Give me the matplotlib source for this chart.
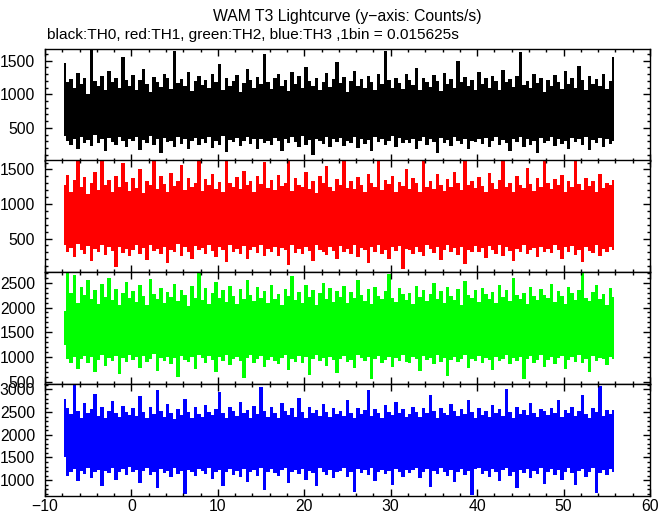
import numpy as np
import matplotlib
matplotlib.use("Agg")
import matplotlib.pyplot as plt
from matplotlib.ticker import MultipleLocator

plt.rcParams['font.family'] = ['Liberation Sans', 'DejaVu Sans']

# time span of the lightcurve (s); values are envelopes per 0.4 s bin
t_start, t_end = -8.0, 56.0

th0_high = [1460,1180,1230,1090,1320,1150,1250,1010,1660,1200,1120,1280,1070,1350,1190,1240,1100,1560,1210,1130,
            1290,1060,1220,1380,1150,1030,1260,1180,1110,1300,1240,1080,1650,1170,1230,1120,1340,1050,1200,1270,
            1140,1210,1090,1310,1180,1450,1060,1250,1130,1200,1290,1040,1170,1380,1220,1100,1260,1150,1600,1190,
            1080,1240,1300,1120,1210,1050,1330,1160,1270,1090,1410,1200,1130,1250,1070,1180,1320,1110,1230,1480,
            1170,1260,1040,1200,1350,1120,1230,1090,1280,1190,1060,1310,1150,1640,1210,1100,1250,1170,1080,1300,
            1220,1140,1390,1060,1240,1180,1110,1290,1200,1050,1320,1160,1230,1090,1500,1190,1260,1120,1210,1070,
            1330,1150,1240,1100,1280,1200,1060,1360,1180,1230,1110,1270,1630,1140,1200,1090,1310,1170,1250,1040,
            1220,1120,1290,1190,1080,1350,1160,1240,1100,1420,1210,1060,1280,1150,1230,1130,1300,1080,1200,1550]
th0_low = [380,300,250,340,190,360,280,320,230,390,270,330,150,350,290,240,370,310,210,340,
           300,360,170,320,270,380,240,330,120,350,290,310,220,370,260,340,180,300,350,250,
           330,280,360,200,310,250,380,140,320,290,350,230,300,370,260,330,190,340,280,310,
           240,350,300,160,330,270,360,290,220,380,250,320,100,340,300,260,370,210,330,290,
           350,230,310,280,370,200,340,260,320,150,360,290,330,240,300,380,210,350,270,320,
           280,340,190,310,360,250,330,290,130,350,270,320,230,370,300,260,340,180,310,290,
           330,260,350,220,300,370,240,320,280,160,340,290,360,210,330,250,310,120,350,280,
           300,370,230,340,260,310,190,350,290,330,240,360,170,320,280,350,220,330,260,300]

th1_high = [1270,1420,1180,1350,1630,1240,1390,1150,1310,1460,1200,1630,1280,1350,1170,1410,1250,1600,1320,1190,
            1380,1230,1500,1160,1340,1270,1630,1210,1400,1290,1180,1450,1260,1330,1560,1200,1370,1240,1310,1630,
            1190,1360,1280,1430,1220,1320,1170,1630,1300,1250,1390,1210,1480,1270,1340,1180,1410,1290,1610,1230,
            1350,1200,1420,1260,1310,1630,1190,1370,1280,1240,1460,1220,1330,1160,1400,1300,1550,1250,1190,1360,
            1280,1630,1230,1340,1210,1390,1270,1170,1440,1300,1250,1630,1200,1350,1290,1410,1180,1320,1260,1500,
            1220,1380,1300,1170,1630,1250,1340,1210,1430,1280,1190,1360,1240,1470,1310,1200,1630,1270,1330,1230,
            1390,1260,1180,1450,1300,1220,1350,1630,1240,1310,1170,1400,1280,1230,1520,1290,1190,1370,1250,1630,
            1300,1210,1360,1270,1420,1180,1330,1250,1630,1290,1200,1380,1260,1340,1170,1440,1230,1310,1270,1350]
th1_low = [400,310,360,230,420,340,280,390,170,350,300,410,260,370,320,90,380,290,350,240,
           330,400,270,360,190,410,320,350,280,380,140,340,300,420,250,370,310,210,390,330,
           360,280,400,320,230,380,340,160,410,300,350,270,390,200,330,370,290,410,240,350,
           310,380,250,360,330,120,400,290,350,270,380,320,180,410,340,300,260,370,320,210,
           390,300,350,280,410,230,360,330,150,380,310,400,270,340,200,370,320,390,60,350,
           340,270,380,310,240,400,350,290,370,190,330,410,300,360,260,380,130,340,310,390,
           300,360,220,390,340,280,410,250,370,320,180,350,300,400,270,330,360,230,380,310,
           350,290,400,330,200,370,310,390,260,340,160,380,320,290,410,240,350,300,370,330]

th2_high = [1920,2700,2300,2650,2100,2420,2250,2560,2180,2350,2080,2470,2220,2600,2150,2380,2050,2290,2510,2190,
            2340,2120,2450,2230,2060,2580,2270,2170,2400,2090,2320,2210,2480,2140,2360,2250,2030,2430,2200,2700,
            2160,2390,2080,2300,2520,2190,2350,2110,2440,2240,2070,2370,2180,2560,2260,2130,2410,2200,2330,2090,
            2460,2170,2280,2050,2380,2230,2640,2150,2320,2100,2450,2210,2350,2060,2290,2500,2180,2400,2120,2340,
            2220,2430,2090,2310,2190,2550,2260,2140,2370,2080,2420,2240,2170,2330,2680,2200,2120,2390,2270,2160,
            2300,2070,2440,2210,2360,2130,2270,2490,2180,2340,2100,2410,2230,2150,2380,2060,2530,2250,2190,2350,
            2120,2400,2270,2170,2320,2090,2460,2210,2350,2140,2590,2260,2180,2300,2080,2420,2230,2160,2370,2250,
            2190,2470,2110,2330,2240,2070,2410,2290,2150,2360,2700,2200,2130,2310,2450,2180,2280,2060,2390,2220]
th2_low = [1250,950,870,1000,760,960,1020,880,990,700,940,1030,820,970,910,1010,650,980,890,1040,
           930,990,780,1020,900,960,1050,720,980,920,1000,850,970,600,1010,940,890,990,760,1030,
           970,880,1010,940,690,990,920,1040,830,960,1000,910,570,980,1030,870,950,1010,790,940,
           1000,920,850,980,1040,740,960,900,1020,880,990,640,950,1030,910,970,820,1000,930,680,
           960,1010,890,940,770,1030,970,910,990,550,960,1020,870,940,1000,800,980,920,1040,900,
           880,990,950,710,1010,930,970,860,1030,900,980,620,940,1000,890,960,1040,780,950,920,
           1020,870,980,940,730,1000,910,960,1040,850,970,920,990,560,950,1010,880,940,1030,800,
           940,1000,860,970,1020,750,930,990,900,1040,870,960,690,1010,920,980,950,830,1000,960]

th3_high = [2800,2600,2450,3100,2520,2380,2700,2470,2560,2900,2420,2610,2360,2530,2750,2480,2390,2640,2510,2440,
            2580,2410,2850,2500,2370,2620,2460,2980,2530,2400,2680,2490,2350,2570,2440,2790,2510,2380,2620,2460,
            2390,2660,2500,2430,2570,2950,2470,2360,2610,2520,2410,2730,2480,2550,2380,2640,2460,3050,2520,2400,
            2610,2480,2370,2700,2530,2440,2590,2400,2820,2510,2360,2620,2470,2550,2420,2680,2500,2390,2580,2460,
            2530,2420,2760,2490,2380,2600,2460,2540,2990,2410,2570,2480,2370,2650,2510,2430,2720,2470,2560,2390,
            2450,2620,2510,2400,2580,2470,2870,2530,2380,2600,2490,2430,2680,2520,2410,2560,2460,2770,2500,2370,
            2590,2440,2530,2400,2660,2480,2570,2420,3000,2510,2380,2620,2460,2540,2430,2710,2490,2400,2570,2520,
            2430,2600,2480,2760,2390,2550,2470,2620,2410,2530,2880,2450,2370,2580,2500,3080,2420,2540,2460,2540]
th3_low = [1500,1100,1180,1250,980,1200,1130,1270,1050,1190,1230,860,1210,1150,1260,1000,1180,1240,1120,1280,
           1170,1230,940,1200,1260,1110,1190,820,1240,1160,1210,1060,1270,1140,1200,700,1230,1180,1090,1250,
           1210,1140,1260,1020,1190,1230,880,1170,1250,1120,1200,1060,1240,960,1180,1220,1100,1260,780,1190,
           1240,1160,1090,1220,1270,930,1180,1230,1130,1250,1010,1200,1150,870,1260,1190,1120,1230,1050,1170,
           1200,1260,1080,1190,740,1240,1160,1220,1110,1270,990,1180,1230,1140,1210,900,1250,1170,1060,1230,
           1150,1220,1270,1040,1190,1240,850,1200,1130,1260,1170,1090,1230,950,1180,1250,1120,1210,680,1240,
           1260,1130,1200,1080,1240,1170,980,1220,1260,1100,1190,830,1230,1160,1250,1040,1200,1140,1270,920,
           1190,1240,1110,1230,1000,1180,1260,1150,890,1210,1240,1070,1190,1270,720,1160,1230,1120,1250,1180]

series = [
    (th0_low, th0_high, 'black', (15, 1675)),
    (th1_low, th1_high, 'red', (15, 1630)),
    (th2_low, th2_high, '#00ff00', (450, 2720)),
    (th3_low, th3_high, 'blue', (650, 3120)),
]

fig = plt.figure(figsize=(6.72, 5.15), dpi=100)

left, width = 45 / 672, 605 / 672
tops = [49, 160.5, 272, 384, 496]

for k, (lo, hi, col, ylim) in enumerate(series):
    y0 = 1 - tops[k + 1] / 515
    h = (tops[k + 1] - tops[k]) / 515
    ax = fig.add_axes([left, y0, width, h])
    n = len(hi)
    dt = (t_end - t_start) / n
    t = t_start + dt * (np.arange(n) + 0.5)
    ax.fill_between(t, lo, hi, step='mid', color=col, lw=0)
    ax.set_xlim(-10, 60)
    ax.set_ylim(*ylim)
    ax.xaxis.set_major_locator(MultipleLocator(10))
    ax.xaxis.set_minor_locator(MultipleLocator(2))
    ax.yaxis.set_major_locator(MultipleLocator(500))
    ax.yaxis.set_minor_locator(MultipleLocator(100))
    ax.tick_params(which='both', direction='in', top=True, right=True,
                   width=1, labelsize=11.3, pad=7)
    ax.tick_params(which='major', length=5)
    ax.tick_params(which='minor', length=2.5)
    ax.tick_params(axis='x', pad=2)
    for s in ax.spines.values():
        s.set_linewidth(1)
    if k < 3:
        ax.tick_params(axis='x', labelbottom=False)

fig.text((45 + 650) / 2 / 672, 1 - 17 / 515, 'WAM T3 Lightcurve (y\u2212axis: Counts/s)',
         ha='center', va='center', fontsize=11.3)
fig.text(47 / 672, 1 - 35 / 515,
         'black:TH0, red:TH1, green:TH2, blue:TH3 ,1bin = 0.015625s',
         ha='left', va='center', fontsize=11.1)

fig.savefig('out.png', dpi=100)
